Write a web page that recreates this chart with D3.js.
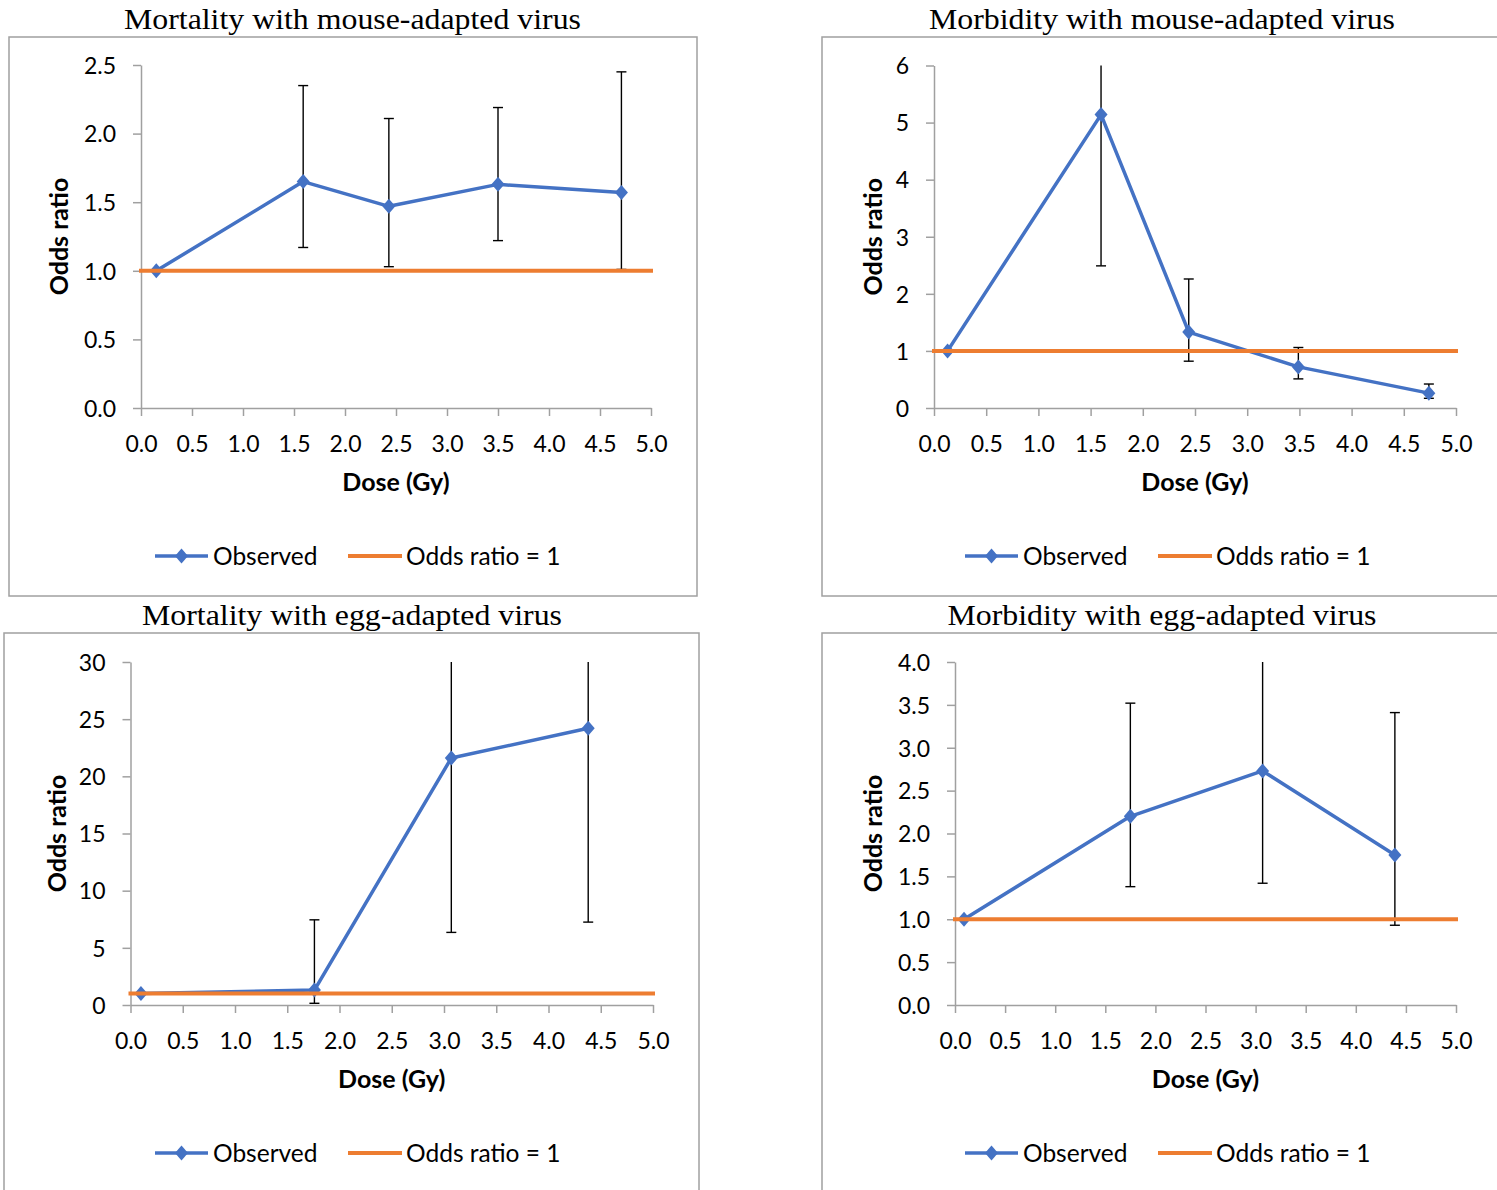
<!DOCTYPE html>
<html><head><meta charset="utf-8">
<script src="https://cdn.jsdelivr.net/npm/d3@7"></script>
<style>body{margin:0;background:#fff} svg{display:block}</style>
</head><body><svg id="c" width="1497" height="1190"></svg>
<script>
// ---------- data ----------
const titles = ["Mortality with mouse-adapted virus", "Morbidity with mouse-adapted virus",
                "Mortality with egg-adapted virus", "Morbidity with egg-adapted virus"];
const xTickLabels = [0, 0.5, 1, 1.5, 2, 2.5, 3, 3.5, 4, 4.5, 5];
const yTicksMortMouse = [0, 0.5, 1, 1.5, 2, 2.5];
const yTicksMorbMouse = [0, 1, 2, 3, 4, 5, 6];
const yTicksMortEgg = [0, 5, 10, 15, 20, 25, 30];
const yTicksMorbEgg = [0, 0.5, 1, 1.5, 2, 2.5, 3, 3.5, 4];

const doseMortMouse = [0.15, 1.59, 2.43, 3.50, 4.71];
const orMortMouse   = [1.00, 1.65, 1.47, 1.63, 1.57];
const loMortMouse   = [null, 1.17, 1.03, 1.22, 1.01];
const hiMortMouse   = [null, 2.35, 2.11, 2.19, 2.45];

const doseMorbMouse = [0.13, 1.60, 2.44, 3.49, 4.74];
const orMorbMouse   = [1.00, 5.14, 1.33, 0.72, 0.26];
const loMorbMouse   = [null, 2.49, 0.82, 0.51, 0.17];
const hiMorbMouse   = [null, 6.80, 2.26, 1.06, 0.42];

const doseMortEgg = [0.10, 1.76, 3.07, 4.38];
const orMortEgg   = [1.00, 1.31, 21.6, 24.2];
const loMortEgg   = [null, 0.15, 6.35, 7.25];
const hiMortEgg   = [null, 7.45, 36.0, 40.0];

const doseMorbEgg = [0.09, 1.75, 3.07, 4.39];
const orMorbEgg   = [1.00, 2.20, 2.73, 1.75];
const loMorbEgg   = [null, 1.38, 1.42, 0.93];
const hiMorbEgg   = [null, 3.52, 4.30, 3.41];

const refDose = [0, 5];
const refOR = [1, 1];
const legendLabels = ["Observed", "Odds ratio = 1"];
const xTitle = "Dose (Gy)";
const yTitle = "Odds ratio";

// ---------- layout ----------
const panels = [
  {title: titles[0], dose: doseMortMouse, or: orMortMouse, lo: loMortMouse, hi: hiMortMouse,
   yTicks: yTicksMortMouse, fmt: ".1f",
   frame: [9, 37, 697, 596], xr: [141, 651], yr: [408, 65], tx: 352.5, ty: 28.5, tw: 457, ylx: 59, lgx: 155},
  {title: titles[1], dose: doseMorbMouse, or: orMorbMouse, lo: loMorbMouse, hi: hiMorbMouse,
   yTicks: yTicksMorbMouse, fmt: "d",
   frame: [822, 37, 1512, 596], xr: [934, 1456], yr: [408, 65.5], tx: 1162, ty: 28.5, tw: 466, ylx: 873, lgx: 965},
  {title: titles[2], dose: doseMortEgg, or: orMortEgg, lo: loMortEgg, hi: hiMortEgg,
   yTicks: yTicksMortEgg, fmt: "d",
   frame: [4, 633, 699, 1210], xr: [130.5, 653], yr: [1005, 662], tx: 352, ty: 625, tw: 420, ylx: 56.5, lgx: 155},
  {title: titles[3], dose: doseMorbEgg, or: orMorbEgg, lo: loMorbEgg, hi: hiMorbEgg,
   yTicks: yTicksMorbEgg, fmt: ".1f",
   frame: [822, 633, 1512, 1210], xr: [955, 1456], yr: [1005, 662], tx: 1162, ty: 625, tw: 429, ylx: 873, lgx: 965},
];

const BLUE = "#4472C4", ORANGE = "#ED7D31", GRID = "#a0a0a0";
const SANS = "Lato, 'Open Sans', sans-serif";
const svg = d3.select("#c");
svg.append("rect").attr("width", 1497).attr("height", 1190).attr("fill", "#fff");

panels.forEach((p, i) => {
  const g = svg.append("g");
  const [fx0, fy0, fx1, fy1] = p.frame;
  // frame
  g.append("rect").attr("x", fx0).attr("y", fy0).attr("width", fx1 - fx0).attr("height", fy1 - fy0)
    .attr("fill", "none").attr("stroke", GRID).attr("stroke-width", 1.5);
  // title
  g.append("text").attr("x", p.tx).attr("y", p.ty).attr("text-anchor", "middle")
    .attr("font-family", "'Liberation Serif', 'Times New Roman', serif").attr("font-size", 30)
    .attr("textLength", p.tw).attr("lengthAdjust", "spacingAndGlyphs")
    .attr("fill", "#000").text(p.title);

  const ymax = p.yTicks[p.yTicks.length - 1];
  const x = d3.scaleLinear().domain([0, 5]).range(p.xr);
  const y = d3.scaleLinear().domain([0, ymax]).range(p.yr);

  // axes
  const xa = g.append("g").attr("transform", `translate(0,${p.yr[0]})`)
    .call(d3.axisBottom(x).tickValues(xTickLabels).tickFormat(d3.format(".1f")).tickSize(8).tickSizeOuter(0).tickPadding(20));
  const ya = g.append("g").attr("transform", `translate(${p.xr[0]},0)`)
    .call(d3.axisLeft(y).tickValues(p.yTicks).tickFormat(d3.format(p.fmt)).tickSize(8).tickSizeOuter(0).tickPadding(17));
  [xa, ya].forEach(a => {
    a.select(".domain").attr("stroke", GRID).attr("stroke-width", 1.5);
    a.selectAll(".tick line").attr("stroke", GRID).attr("stroke-width", 1.5);
    a.selectAll(".tick text").attr("font-family", SANS).attr("font-size", 23).attr("fill", "#000");
  });
  xa.selectAll(".tick text").attr("dy", "0.71em");
  ya.selectAll(".tick text").attr("dy", "0.36em");

  // axis titles
  g.append("text").attr("x", (p.xr[0] + p.xr[1]) / 2).attr("y", p.yr[0] + 83)
    .attr("text-anchor", "middle").attr("font-family", SANS).attr("font-weight", "bold")
    .attr("font-size", 25).attr("fill", "#000").text(xTitle);
  g.append("text").attr("transform", `translate(${p.ylx + 9},${(p.yr[0] + p.yr[1]) / 2}) rotate(-90)`)
    .attr("text-anchor", "middle").attr("font-family", SANS).attr("font-weight", "bold")
    .attr("font-size", 25).attr("fill", "#000").text(yTitle);

  // error bars
  const pts = p.dose.map((d, k) => ({d, v: p.or[k], lo: p.lo[k], hi: p.hi[k]}));
  const eb = g.append("g").attr("stroke", "#000").attr("stroke-width", 1.4);
  pts.filter(q => q.lo !== null).forEach(q => {
    const hiC = Math.min(q.hi, ymax);
    eb.append("line").attr("x1", x(q.d)).attr("x2", x(q.d)).attr("y1", y(q.lo)).attr("y2", y(hiC));
    eb.append("line").attr("x1", x(q.d) - 5).attr("x2", x(q.d) + 5).attr("y1", y(q.lo)).attr("y2", y(q.lo));
    if (q.hi <= ymax)
      eb.append("line").attr("x1", x(q.d) - 5).attr("x2", x(q.d) + 5).attr("y1", y(q.hi)).attr("y2", y(q.hi));
  });

  // observed line
  const line = d3.line().x(q => x(q.d)).y(q => y(q.v));
  g.append("path").datum(pts).attr("d", line).attr("fill", "none")
    .attr("stroke", BLUE).attr("stroke-width", 3.5).attr("stroke-linejoin", "round");
  const diamond = "M0,-7.5L6.5,0L0,7.5L-6.5,0Z";
  g.selectAll(".mk").data(pts).enter().append("path")
    .attr("transform", q => `translate(${x(q.d)},${y(q.v)})`).attr("d", diamond).attr("fill", BLUE);

  // reference line
  const refPts = refDose.map((d, k) => ({d, v: refOR[k]}));
  g.append("path").datum(refPts).attr("d", line).attr("fill", "none")
    .attr("stroke", ORANGE).attr("stroke-width", 4).attr("stroke-linecap", "square");

  // legend
  const lg = g.append("g").attr("transform", `translate(${p.lgx},${p.yr[0] + 148})`);
  lg.append("line").attr("x1", 0).attr("x2", 53).attr("stroke", BLUE).attr("stroke-width", 3.5);
  lg.append("path").attr("transform", "translate(26.5,0)").attr("d", diamond).attr("fill", BLUE);
  lg.append("text").attr("x", 58).attr("dy", "0.36em").attr("font-family", SANS).attr("font-size", 24.5)
    .attr("fill", "#000").text(legendLabels[0]);
  lg.append("line").attr("x1", 193).attr("x2", 247).attr("stroke", ORANGE).attr("stroke-width", 4);
  lg.append("text").attr("x", 251).attr("dy", "0.36em").attr("font-family", SANS).attr("font-size", 24.5)
    .attr("fill", "#000").text(legendLabels[1]);
});
</script>
</body></html>
